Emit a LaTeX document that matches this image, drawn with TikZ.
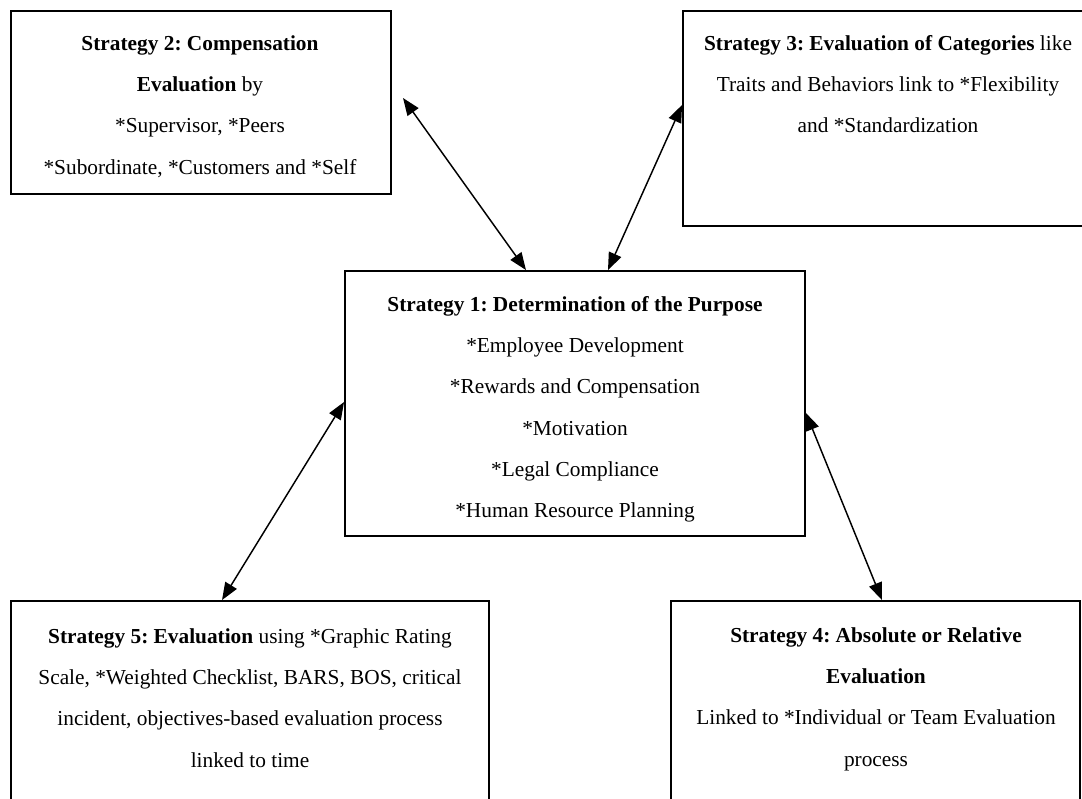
\documentclass[tikz,border=0pt]{standalone}
\usepackage{fontspec}
\setmainfont{Liberation Serif}
\usetikzlibrary{arrows.meta}
\frenchspacing
\begin{document}
\begin{tikzpicture}[x=0.75pt,y=-0.75pt,
  box/.style={draw, line width=1.4pt, inner sep=0pt, rectangle},
  txt/.style={anchor=north, align=center, inner sep=0pt, font=\fontsize{16}{31}\selectfont},
  link/.style={{Triangle[length=13pt,width=10pt]}-{Triangle[length=13pt,width=10pt]}, line width=1.1pt}]
\useasboundingbox (0,0) rectangle (1082,799);
% boxes
\node[box, minimum width=285pt, minimum height=137.25pt] (s2) at (201,102.5) {};
\node[box, minimum width=307.5pt, minimum height=161.25pt] (s3) at (888,118.5) {};
\node[box, minimum width=345pt, minimum height=198.75pt] (s1) at (575,403.5) {};
\node[box, minimum width=358.5pt, minimum height=171.75pt] (s5) at (250,715.5) {};
\node[box, minimum width=306.75pt, minimum height=171.75pt] (s4) at (875.5,715.5) {};
% texts
\node[txt] (t2) at (200,35) {\textbf{Strategy 2: Compensation}\\\textbf{Evaluation} by\\{}*Supervisor, *Peers\\{}*Subordinate, *Customers and *Self};
\node[txt] (t3) at (888,35) {\textbf{Strategy 3: Evaluation of Categories} like\\Traits and Behaviors link to *Flexibility\\and *Standardization};
\node[txt] (t1) at (575,296) {\textbf{Strategy 1: Determination of the Purpose}\\{}*Employee Development\\{}*Rewards and Compensation\\{}*Motivation\\{}*Legal Compliance\\{}*Human Resource Planning};
\node[txt] (t5) at (250,628) {\textbf{Strategy 5: Evaluation} using *Graphic Rating\\Scale, *Weighted Checklist, BARS, BOS, critical\\incident, objectives-based evaluation process\\linked to time};
\node[txt] (t4) at (876,627) {\textbf{Strategy 4: Absolute or Relative}\\\textbf{Evaluation}\\Linked to *Individual or Team Evaluation\\process};
% connectors
\coordinate (a2) at (403,98);
\draw[link] (a2) -- (526,0 |- s1.north);
\draw[link] (s3.west |- 0,105) -- (608,0 |- s1.north);
\draw[link] (s1.west |- 0,402) -- (222,0 |- s5.north);
\draw[link] (s1.east |- 0,413) -- (882,0 |- s4.north);
\end{tikzpicture}
\end{document}
